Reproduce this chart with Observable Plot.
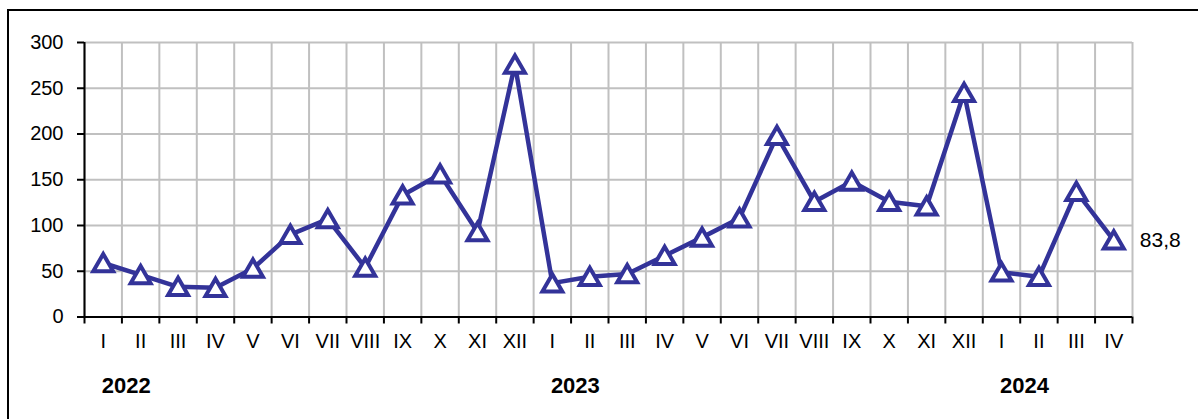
<!DOCTYPE html>
<html><head><meta charset="utf-8">
<script src="https://cdn.jsdelivr.net/npm/d3@7"></script>
<script src="https://cdn.jsdelivr.net/npm/@observablehq/plot@0.6"></script>
<style>
html,body{margin:0;padding:0;background:#fff;overflow:hidden;width:1198px;height:419px}
#frame{position:absolute;left:7px;top:9px;width:1400px;height:800px;border:2px solid #000;box-sizing:border-box;}
#chart{position:absolute;left:0;top:0}
</style></head><body>
<div id="frame"></div><div id="chart"></div>
<script>
const months = ["I","II","III","IV","V","VI","VII","VIII","IX","X","XI","XII",
                "I","II","III","IV","V","VI","VII","VIII","IX","X","XI","XII",
                "I","II","III","IV"];
const values = [59, 46, 33, 32, 53, 90, 107, 54, 133, 156, 93, 276,
                37, 44, 47, 67, 87, 108, 198, 126, 148, 126, 121, 245,
                49, 44, 137, 83.8];
const years = ["2022", "2023", "2024"];
const yearStart = [0, 12, 24];
const yTicks = [0, 50, 100, 150, 200, 250, 300];

const data = values.map((v, i) => ({i, x: i + 0.5, v, m: months[i]}));
const bounds = d3.range(0, months.length + 1);
const navy = "#333399";

const plot = Plot.plot({
  width: 1198, height: 419,
  marginLeft: 84, marginRight: 66, marginTop: 42, marginBottom: 102.5,
  x: {domain: [0, months.length], axis: null, label: null},
  y: {domain: [0, 300], axis: null, label: null},
  style: {fontFamily: "'Liberation Sans', Arial, sans-serif", background: "transparent", color: "#000"},
  marks: [
    Plot.ruleX(bounds, {stroke: "#c0c0c0", strokeWidth: 2}),
    Plot.ruleY(yTicks.filter(d => d > 0), {stroke: "#c0c0c0", strokeWidth: 2}),
    Plot.axisY({ticks: yTicks, tickSize: 7, tickPadding: 14, fontSize: 20, strokeWidth: 2, tickFormat: d => String(d), anchor: "left", label: null}),
    Plot.axisX({ticks: bounds, tickSize: 7, tickFormat: () => "", strokeWidth: 2, anchor: "bottom", label: null}),
    Plot.ruleY([0], {stroke: "#000", strokeWidth: 2}),
    Plot.ruleX([0], {stroke: "#000", strokeWidth: 2}),
    Plot.text(data, {x: "x", y: 0, text: "m", dy: 24.5, fontSize: 20, fill: "#000"}),
    Plot.text(years, {x: (d, j) => yearStart[j] + 0.5, y: 0, text: d => d, dy: 68.5, dx: 23, fontSize: 22, fontWeight: "bold", fill: "#000"}),
    Plot.line(data, {x: "x", y: "v", stroke: navy, strokeWidth: 4.5}),
    Plot.dot(data, {x: "x", y: "v", symbol: "triangle", r: 7.4, stroke: navy, strokeWidth: 4, fill: "white", dy: 2.5}),
    Plot.text(data.slice(-1), {x: "x", y: "v", text: d => String(d.v).replace(".", ","), textAnchor: "start", dx: 26, fontSize: 21, fill: "#000"})
  ]
});
document.getElementById("chart").appendChild(plot);
</script>
</body></html>
